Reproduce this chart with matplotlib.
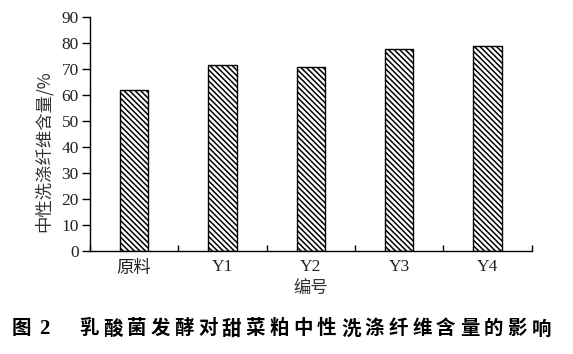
import matplotlib
matplotlib.use("Agg")
import matplotlib.pyplot as plt

# ── data ──────────────────────────────────────────────────────────────────────
categories = ["原料", "Y1", "Y2", "Y3", "Y4"]
ndf_content = [61.8, 71.6, 70.8, 77.6, 79.0]
y_ticks = [0, 10, 20, 30, 40, 50, 60, 70, 80, 90]
caption_head = ["图", "2"]
caption_body = "乳酸菌发酵对甜菜粕中性洗涤纤维含量的影响"

FONT = ["Liberation Serif", "Noto Sans CJK SC", "DejaVu Sans"]
CJK = ["Noto Sans CJK SC", "DejaVu Sans"]

plt.rcParams["font.family"] = FONT
plt.rcParams["hatch.linewidth"] = 1.1
plt.rcParams["hatch.color"] = "black"

fig = plt.figure(figsize=(5.73, 3.54), dpi=100)
ax = fig.add_axes([0.157, 0.291, 0.771, 0.661])

x = list(range(len(categories)))
ax.bar(x, ndf_content, width=0.32, facecolor="white", edgecolor="black",
       linewidth=1.0, hatch="\\" * 6, zorder=2)

ax.set_xlim(-0.5, len(categories) - 0.5)
ax.set_ylim(0, 90)
ax.set_yticks(y_ticks)
ax.tick_params(axis="y", direction="out", length=6, width=1.0, labelsize=12.5,
               pad=2, labelcolor="#222222")

# category labels centred, boundary ticks pointing up
ax.set_xticks(x)
ax.set_xticklabels(categories, fontsize=12.5, color="#222222")
ax.tick_params(axis="x", which="major", length=0, pad=6)
ax.set_xticks([i - 0.5 for i in range(len(categories) + 1)], minor=True)
ax.tick_params(axis="x", which="minor", direction="in", length=4, width=1.0)
for lbl in ax.get_xticklabels():
    if lbl.get_text() == "原料":
        lbl.set_family(CJK)

for s in ["top", "right"]:
    ax.spines[s].set_visible(False)
ax.spines["left"].set_linewidth(1.0)
ax.spines["bottom"].set_linewidth(1.0)

ax.set_xlabel("编号", family=CJK, fontsize=12.5, labelpad=2, color="#333333")
ax.set_ylabel("中性洗涤纤维含量/%", family=CJK, fontsize=12.5, labelpad=4, color="#333333")
ax.yaxis.set_label_coords(-0.085, 0.425)

# caption with wide letter spacing
W = 573.0
cy = 0.071
fig.text(21 / W, cy, caption_head[0], ha="center", va="center",
         family=CJK, fontsize=14, fontweight="bold")
fig.text(44 / W, cy, caption_head[1], ha="center", va="center",
         family=FONT, fontsize=15, fontweight="bold")
pitch = (553 - 77) / len(caption_body)
for i, ch in enumerate(caption_body):
    fig.text((77 + pitch * (i + 0.5)) / W, cy, ch, ha="center", va="center",
             family=CJK, fontsize=14, fontweight="bold")

fig.savefig("out.png", dpi=100)
